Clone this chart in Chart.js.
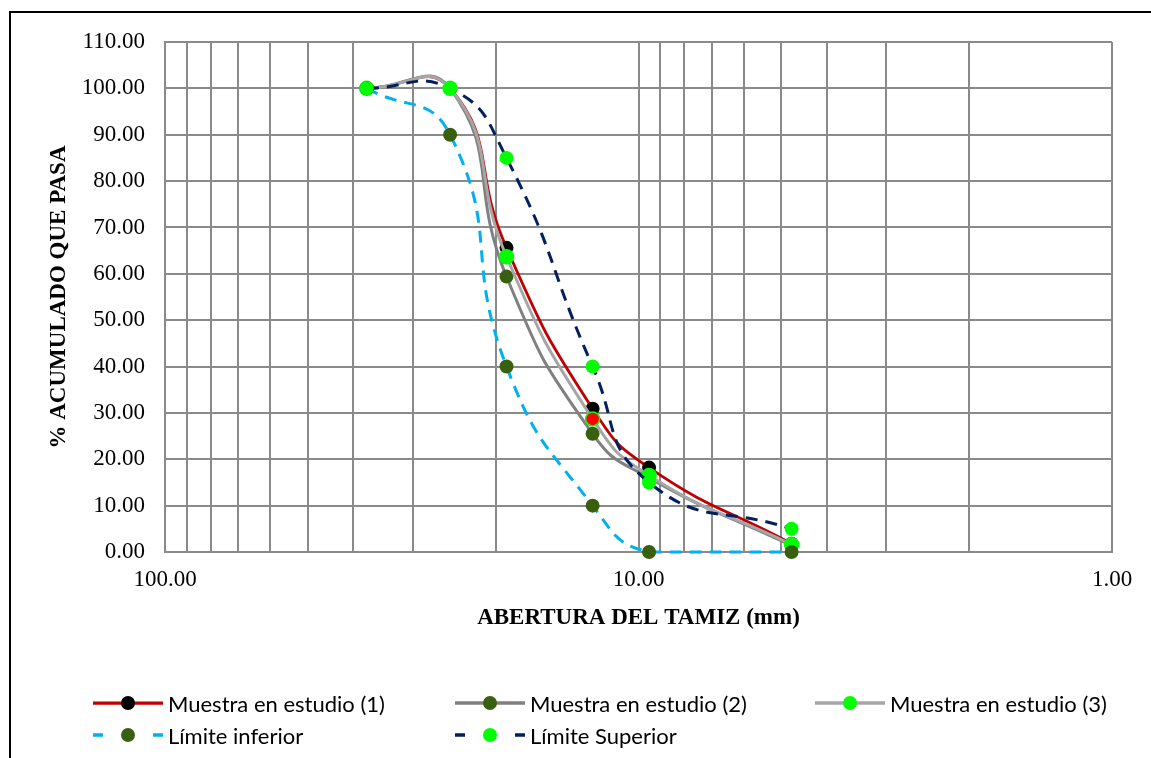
<!DOCTYPE html>
<html>
<head>
<meta charset="utf-8">
<title>Curva granulométrica</title>
<script src="https://cdn.jsdelivr.net/npm/chart.js@4.4.0/dist/chart.umd.min.js"></script>
<style>
  html, body { margin: 0; padding: 0; background: #fff; }
  body { width: 1151px; height: 758px; position: relative; overflow: hidden; }
  #frame { position: absolute; left: 9px; top: 11px; width: 1200px; height: 800px; border-left: 2px solid #000; border-top: 2px solid #000; }
  #wrap { position: absolute; left: 0; top: 0; width: 1151px; height: 758px; }
  #legend { position: absolute; left: 0; top: 0; width: 1151px; height: 758px; pointer-events: none;
            font-family: Lato, "Liberation Sans", sans-serif; font-size: 22px; color: #000; }
  .item { position: absolute; display: flex; align-items: center; white-space: nowrap; height: 24px; }
  .item svg { margin-right: 5px; }
</style>
</head>
<body>
<div id="frame"></div>
<div id="wrap"><canvas id="gradChart"></canvas></div>
<div id="legend"></div>
<script>
// abertura del tamiz (mm) and % acumulado que pasa
const sieveSizes = [37.5, 25, 19, 12.5, 9.5, 4.75];
const muestra1 = [100, 100, 65.6, 30.9, 18.2, 1.8];
const muestra2 = [100, 100, 59.4, 25.5, 16.0, 1.4];
const muestra3 = [100, 100, 63.7, 28.7, 16.5, 1.6];
const limiteInferior = [100, 90, 40, 10, 0, 0];
const limiteSuperior = [100, 100, 85, 40, 15, 5];
const seriesNames = ['Muestra en estudio (1)', 'Muestra en estudio (2)', 'Muestra en estudio (3)', 'Límite inferior', 'Límite Superior'];
const xLabelTicks = [100, 10, 1];
const yMin = 0, yMax = 110, yStep = 10;

const DARK_GREEN = '#386010';
const LIME = '#00FF00';
const GRID = '#8a8a8a';
const SERIF = '"Liberation Serif", "Times New Roman", serif';

let gradChart;

function points(values) {
  return values.map((v, i) => ({ x: sieveSizes[i], y: v }));
}

function initGradChart() {
  const ctx = document.getElementById('gradChart');
  gradChart = new Chart(ctx, {
    type: 'line',
    data: {
      datasets: [
        { label: seriesNames[0], data: points(muestra1), borderColor: '#C00000', borderWidth: 2.75,
          pointBackgroundColor: '#000000', pointBorderWidth: 0, order: 4 },
        { label: seriesNames[1], data: points(muestra2), borderColor: '#808080', borderWidth: 3,
          pointBackgroundColor: DARK_GREEN, pointBorderWidth: 0, order: 3 },
        { label: seriesNames[2], data: points(muestra3), borderColor: '#A6A6A6', borderWidth: 3,
          pointBackgroundColor: muestra3.map((v, i) => i === 3 ? '#FF0000' : LIME),
          pointBorderColor: LIME, pointBorderWidth: 1.5, order: 2 },
        { label: seriesNames[3], data: points(limiteInferior), borderColor: '#00B0F0', borderWidth: 3,
          borderDash: [12, 8], pointBackgroundColor: DARK_GREEN, pointBorderWidth: 0, order: 1 },
        { label: seriesNames[4], data: points(limiteSuperior), borderColor: '#002060', borderWidth: 3,
          borderDash: [12, 8], pointBackgroundColor: LIME, pointBorderWidth: 0, order: 0 }
      ]
    },
    options: {
      responsive: true,
      maintainAspectRatio: false,
      animation: false,
      layout: { padding: { left: 12, top: 42, right: 39, bottom: 116 } },
      elements: {
        line: { tension: 0.5, fill: false },
        point: { radius: 7, hoverRadius: 7 }
      },
      datasets: { line: { clip: false } },
      plugins: { legend: { display: false }, tooltip: { enabled: false } },
      scales: {
        x: {
          type: 'logarithmic',
          reverse: true,
          min: 1,
          max: 100,
          afterBuildTicks: (scale) => {
            const vals = [];
            for (let e = 0; e < 2; e++) {
              for (let m = 1; m < 10; m++) vals.push(m * Math.pow(10, e));
            }
            vals.push(100);
            scale.ticks = vals.map(v => ({ value: v }));
          },
          afterFit: (scale) => { scale.height = 90; },
          ticks: {
            autoSkip: false,
            maxRotation: 0,
            padding: 14,
            color: '#000',
            font: { family: SERIF, size: 23 },
            callback: (v) => xLabelTicks.includes(v) ? v.toFixed(2) : ''
          },
          grid: { color: GRID, lineWidth: 2, drawTicks: false },
          border: { color: GRID, width: 2 },
          title: {
            display: true,
            text: 'ABERTURA DEL TAMIZ (mm)',
            color: '#000',
            padding: { top: 0, bottom: 10 },
            font: { family: SERIF, size: 23, weight: 'bold' }
          }
        },
        y: {
          min: yMin,
          max: yMax,
          afterFit: (scale) => { scale.width = 153; },
          ticks: {
            stepSize: yStep,
            padding: 20,
            color: '#000',
            font: { family: SERIF, size: 23 },
            callback: (v) => v.toFixed(2)
          },
          grid: { color: GRID, lineWidth: 2, drawTicks: false },
          border: { color: GRID, width: 2 },
          title: {
            display: true,
            text: '% ACUMULADO QUE PASA',
            color: '#000',
            padding: { top: 33, bottom: 0 },
            font: { family: SERIF, size: 23, weight: 'bold' }
          }
        }
      }
    }
  });
  buildLegend();
}

// Excel-like legend: three columns, line sample with the marker in the middle
function buildLegend() {
  const box = document.getElementById('legend');
  const cols = [93, 455, 815];
  const rows = [703, 735];
  gradChart.data.datasets.forEach((ds, i) => {
    const item = document.createElement('div');
    item.className = 'item';
    item.style.left = cols[i % 3] + 'px';
    item.style.top = (rows[Math.floor(i / 3)] - 12) + 'px';
    const fill = Array.isArray(ds.pointBackgroundColor) ? ds.pointBackgroundColor[0] : ds.pointBackgroundColor;
    const dash = ds.borderDash ? '10 50' : 'none';
    item.innerHTML =
      '<svg width="70" height="24"><line x1="0" y1="12" x2="70" y2="12" stroke="' + ds.borderColor +
      '" stroke-width="' + (ds.borderWidth + 0.5) + '" stroke-dasharray="' + dash + '"/>' +
      '<circle cx="35" cy="12" r="7" fill="' + fill + '"/></svg><span></span>';
    item.querySelector('span').textContent = ds.label;
    box.appendChild(item);
  });
}

document.addEventListener('DOMContentLoaded', initGradChart);
</script>
</body>
</html>
